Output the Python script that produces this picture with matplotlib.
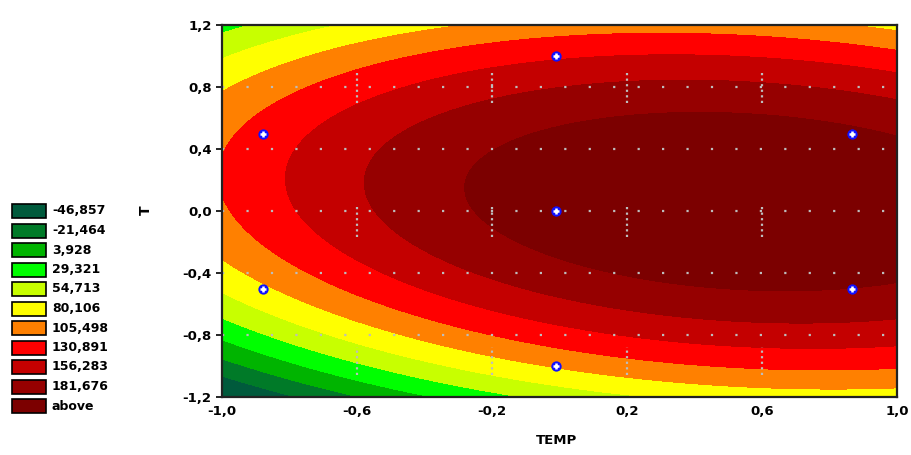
import numpy as np
import matplotlib
matplotlib.use("Agg")
import matplotlib.pyplot as plt
from matplotlib.patches import Rectangle

# ---- data ----
# fitted quadratic response surface z = b0 + b1*x + b2*y + b11*x^2 + b22*y^2 + b12*x*y
b0, b1, b2, b11, b22, b12 = 197.2, 50.0, 22.0, -45.0, -92.0, -20.0
level_bounds = [-46.857, -21.464, 3.928, 29.321, 54.713, 80.106,
                105.498, 130.891, 156.283, 181.676]
legend_labels = ["-46,857", "-21,464", "3,928", "29,321", "54,713", "80,106",
                 "105,498", "130,891", "156,283", "181,676", "above"]
colors = ["#005a3c", "#007a28", "#00b400", "#00ff00", "#c8ff00", "#ffff00",
          "#ff8000", "#ff0000", "#c40000", "#960000", "#7c0000"]
design_x = [-0.88, -0.88, -0.01, -0.01, -0.01, 0.866, 0.866]
design_y = [0.5, -0.5, 1.0, 0.0, -1.0, 0.5, -0.5]
xticks = [-1.0, -0.6, -0.2, 0.2, 0.6, 1.0]
xtick_labels = ["-1,0", "-0,6", "-0,2", "0,2", "0,6", "1,0"]
yticks = [1.2, 0.8, 0.4, 0.0, -0.4, -0.8, -1.2]
ytick_labels = ["1,2", "0,8", "0,4", "0,0", "-0,4", "-0,8", "-1,2"]

# ---- figure ----
W, H = 911, 455
fig = plt.figure(figsize=(W / 100, H / 100), dpi=100)
ax = fig.add_axes([222 / W, 1 - 397 / H, (897 - 222) / W, (397 - 25) / H])

gx = np.linspace(-1, 1, 400)
gy = np.linspace(-1.2, 1.2, 400)
X, Y = np.meshgrid(gx, gy)
Z = b0 + b1 * X + b2 * Y + b11 * X**2 + b22 * Y**2 + b12 * X * Y
levels = [-1000] + level_bounds + [1000]
ax.contourf(X, Y, Z, levels=levels, colors=colors, antialiased=False)

# grid (Statistica-like dotted)
for yv in [0.8, 0.4, 0.0, -0.4, -0.8]:
    ax.plot([-1, 1], [yv, yv], color="#bdbdbd", lw=1.6,
            linestyle=(0, (1, 10)), zorder=2)
for xv in [-0.6, -0.2, 0.2, 0.6]:
    for (a, b) in [(0.70, 0.91), (-0.17, 0.03), (-1.06, -0.88)]:
        ax.plot([xv, xv], [a, b], color="#bdbdbd", lw=1.6,
                linestyle=(0, (1, 1.5)), zorder=2)

ax.scatter(design_x, design_y, s=55, color="#1010ff", zorder=4, linewidths=0)
ax.scatter(design_x, design_y, s=20, marker="+", color="white", zorder=5,
           linewidths=1.8)

ax.set_xlim(-1, 1)
ax.set_ylim(-1.2, 1.2)
ax.set_xticks(xticks)
ax.set_xticklabels(xtick_labels)
ax.set_yticks(yticks)
ax.set_yticklabels(ytick_labels)
ax.tick_params(axis="both", labelsize=9.5, length=4, width=1.2, direction="out",
               colors="black")
ax.tick_params(axis="x", length=0, pad=6)
for lab in ax.get_xticklabels() + ax.get_yticklabels():
    lab.set_fontweight("bold")
for s in ax.spines.values():
    s.set_linewidth(1.6)
    s.set_color("#222222")

fig.text(146 / W, 1 - 210 / H, "T", rotation=90, ha="center", va="center",
         fontsize=10, fontweight="bold")
fig.text(557 / W, 1 - 440 / H, "TEMP", ha="center", va="center",
         fontsize=9.5, fontweight="bold")

# legend
for i, (lab, col) in enumerate(zip(legend_labels, colors)):
    yc = 211 + i * 19.5
    fig.patches.append(Rectangle((12 / W, 1 - (yc + 7) / H), 34 / W, 14 / H,
                                 transform=fig.transFigure, facecolor=col,
                                 edgecolor="black", linewidth=1.2))
    fig.text(52 / W, 1 - yc / H, lab, ha="left", va="center", fontsize=9,
             fontweight="bold")

fig.savefig("out.png", dpi=100)
